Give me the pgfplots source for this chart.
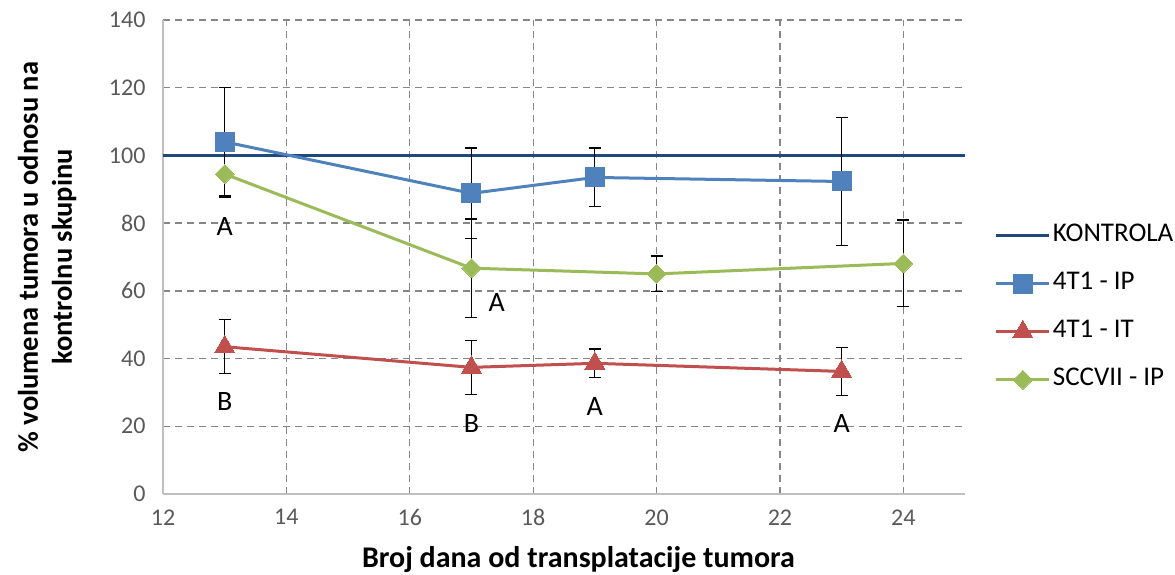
\documentclass[border=0pt]{standalone}
\usepackage{fontspec}
\setmainfont{Carlito}
\usepackage{pgfplots}
\pgfplotsset{compat=1.18}
\definecolor{kontrola}{RGB}{31,73,125}
\definecolor{ipblue}{RGB}{79,129,189}
\definecolor{itred}{RGB}{192,80,77}
\definecolor{sgreen}{RGB}{155,187,89}
\definecolor{gridgray}{RGB}{134,134,134}
\definecolor{axgray}{RGB}{191,191,191}
\definecolor{ticktext}{RGB}{89,89,89}
\begin{document}
\begin{tikzpicture}
\useasboundingbox (-163pt,-80pt) rectangle (1012pt,494pt);
\begin{axis}[
  scale only axis, width=802pt, height=474pt,
  xmin=12, xmax=25, ymin=0, ymax=140,
  xtick={14,16,...,24}, ytick={20,40,...,140},
  extra x ticks={12}, extra y ticks={0},
  extra tick style={grid=none},
  axis x line*=bottom, axis y line*=left,
  axis line style={-, axgray, line width=1.5pt},
  major tick length=0pt,
  grid=major,
  major grid style={gridgray, line width=1.3pt, dash pattern=on 7pt off 5pt},
  /pgf/number format/assume math mode=true,
  ticklabel style={font=\fontsize{24}{28}\selectfont, text=ticktext},
  yticklabel style={xshift=-14pt},
  xticklabel style={yshift=-12pt},
  xlabel={Broj dana od transplatacije tumora},
  xlabel style={font=\bfseries\fontsize{30}{36}\selectfont, at={(axis description cs:0.518,-0.139)}, anchor=center},
  ylabel={\% volumena tumora u odnosu na\\kontrolnu skupinu},
  ylabel style={align=center, font=\bfseries\fontsize{28.5}{34}\selectfont, at={(axis description cs:-0.1446,0.5)}, anchor=center},
  clip=false,
  legend style={draw=none, fill=none, inner sep=0pt, at={(axis description cs:1.037,0.393)}, anchor=west,
    font=\fontsize{27}{32}\selectfont, row sep=20pt,
    nodes={inner sep=2pt, text height=18pt, text depth=6pt}},
  legend cell align=left,
  legend image code/.code={\draw[mark repeat=2,mark phase=2] plot coordinates {(0pt,0pt)(26.5pt,0pt)(53pt,0pt)};},
  error bars/y dir=both, error bars/y explicit,
  error bars/error bar style={black, line width=1.2pt, solid},
  error bars/error mark options={rotate=90, black, mark size=6pt, line width=1.2pt},
]
\addplot[kontrola, line width=3pt, no marks, error bars/y dir=none] coordinates {(12,100) (25,100)};
\addlegendentry{KONTROLA}
\addplot[ipblue, line width=3pt, mark=square*, mark size=9.5pt, mark options={fill=ipblue, draw=ipblue, line width=0pt}] coordinates {
  (13,104.0) +- (0,16.0)
  (17,88.8) +- (0,13.4)
  (19,93.5) +- (0,8.7)
  (23,92.3) +- (0,19.0)
};
\addlegendentry{4T1 - IP}
\addplot[itred, line width=3pt, mark=triangle*, mark size=11.5pt, mark options={fill=itred, draw=itred, line width=0pt}] coordinates {
  (13,43.5) +- (0,8.0)
  (17,37.4) +- (0,8.0)
  (19,38.6) +- (0,4.2)
  (23,36.2) +- (0,7.0)
};
\addlegendentry{4T1 - IT}
\addplot[sgreen, line width=3pt, mark=square*, mark size=6.7pt, mark options={rotate=45, fill=sgreen, draw=sgreen, line width=0pt}] coordinates {
  (13,94.5) +- (0,7.0)
  (17,66.7) +- (0,14.5)
  (20,65.0) +- (0,5.3)
  (24,68.1) +- (0,12.8)
};
\addlegendentry{SCCVII - IP}
\node[font=\fontsize{28}{32}\selectfont] at (axis cs:13,79) {A};
\node[font=\fontsize{28}{32}\selectfont] at (axis cs:13,27.3) {B};
\node[font=\fontsize{28}{32}\selectfont] at (axis cs:17.41,56.5) {A};
\node[font=\fontsize{28}{32}\selectfont] at (axis cs:17,20.9) {B};
\node[font=\fontsize{28}{32}\selectfont] at (axis cs:19,25.8) {A};
\node[font=\fontsize{28}{32}\selectfont] at (axis cs:23,20.9) {A};
\end{axis}
\end{tikzpicture}
\end{document}
